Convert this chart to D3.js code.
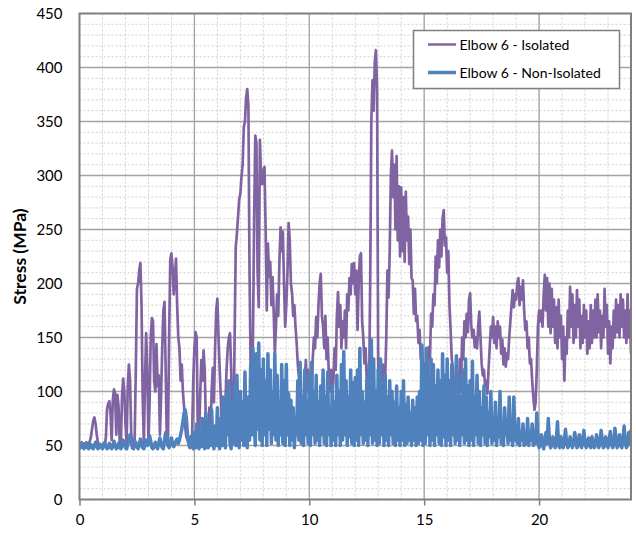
<!DOCTYPE html>
<html>
<head>
<meta charset="utf-8">
<script src="https://cdn.jsdelivr.net/npm/d3@7"></script>
<style>
  html, body { margin: 0; padding: 0; background: #ffffff; }
  svg { display: block; font-family: Lato, "Open Sans", sans-serif; }
</style>
</head>
<body>
<svg id="chart" width="636" height="534"></svg>
<script>
// Stress readings sampled every 0.05 time units, from 0 to 24 (one row per unit).
const sampleStep = 0.05;

const isolatedStress = [
  52, 50, 53, 51, 52, 50, 53, 51, 52, 54, 58, 66, 73, 76, 70, 60, 53, 50, 51, 49,
  50, 52, 50, 58, 84, 89, 91, 80, 55, 92, 102, 98, 60, 97, 86, 52, 50, 95, 112, 100,
  70, 52, 105, 125, 110, 62, 52, 55, 55, 120, 195, 200, 212, 219, 180, 95, 52, 110, 154, 120,
  52, 90, 150, 168, 165, 110, 100, 144, 105, 115, 60, 95, 140, 175, 183, 120, 55, 52, 150, 222,
  228, 215, 190, 205, 223, 180, 150, 140, 110, 125, 100, 86, 67, 58, 55, 52, 54, 52, 60, 110,
  140, 155, 150, 60, 52, 95, 129, 110, 138, 120, 70, 54, 52, 85, 55, 100, 122, 90, 140, 175,
  186, 150, 120, 95, 60, 52, 55, 90, 120, 140, 150, 154, 120, 60, 52, 150, 234, 246, 262, 278,
  283, 299, 310, 345, 350, 372, 380, 365, 209, 120, 98, 150, 260, 337, 330, 210, 178, 333, 300, 292,
  305, 308, 250, 175, 237, 206, 220, 180, 206, 175, 135, 160, 190, 170, 220, 252, 230, 248, 200, 160,
  180, 210, 256, 240, 200, 191, 170, 180, 160, 145, 125, 113, 100, 80, 90, 70, 110, 129, 100, 120,
  98, 115, 90, 130, 150, 140, 169, 150, 180, 200, 209, 170, 160, 140, 170, 130, 150, 115, 100, 120,
  96, 110, 140, 120, 170, 192, 160, 180, 140, 165, 150, 175, 140, 190, 175, 205, 190, 218, 200, 219,
  190, 212, 157, 200, 225, 228, 165, 150, 126, 140, 110, 120, 95, 200, 350, 388, 360, 405, 416, 380,
  117, 60, 130, 110, 125, 105, 110, 150, 212, 187, 230, 300, 323, 280, 310, 250, 318, 240, 290, 225,
  289, 230, 280, 220, 285, 240, 262, 218, 250, 205, 203, 172, 195, 165, 170, 145, 157, 130, 141, 115,
  126, 95, 110, 100, 141, 130, 172, 160, 190, 180, 225, 200, 240, 215, 250, 225, 260, 268, 235, 243,
  210, 230, 180, 157, 130, 123, 100, 90, 75, 110, 90, 130, 100, 150, 130, 165, 150, 172, 155, 185,
  191, 160, 150, 157, 141, 150, 140, 160, 174, 150, 126, 115, 120, 105, 110, 98, 120, 140, 160, 150,
  169, 145, 160, 140, 165, 150, 160, 135, 148, 125, 140, 123, 135, 130, 150, 165, 180, 194, 178, 190,
  185, 200, 205, 180, 197, 185, 203, 175, 157, 165, 140, 150, 126, 130, 110, 95, 83, 90, 120, 160,
  175, 165, 175, 160, 190, 208, 175, 205, 160, 200, 154, 195, 160, 185, 145, 178, 140, 185, 150, 170,
  130, 160, 110, 150, 135, 175, 150, 197, 160, 190, 145, 180, 150, 194, 160, 185, 140, 170, 145, 180,
  150, 175, 135, 165, 140, 180, 145, 175, 150, 185, 150, 190, 155, 175, 140, 170, 150, 195, 160, 180,
  135, 165, 126, 160, 140, 175, 150, 185, 155, 180, 150, 190, 160, 185, 150, 175, 145, 190, 150, 175,
  135
];

const nonIsolatedStress = [
  50, 48, 52, 49, 47, 50, 52, 48, 47, 49, 51, 48, 47, 50, 53, 49, 47, 48, 51, 49,
  47, 50, 53, 49, 47, 48, 52, 50, 47, 49, 54, 50, 47, 48, 52, 49, 47, 50, 55, 51,
  48, 47, 51, 54, 60, 55, 48, 47, 50, 53, 49, 47, 50, 56, 52, 48, 47, 51, 55, 50,
  52, 59, 54, 48, 47, 50, 53, 49, 47, 52, 57, 51, 48, 47, 55, 62, 56, 50, 48, 52,
  57, 52, 49, 51, 54, 56, 52, 55, 60, 65, 72, 80, 83, 75, 60, 52, 48, 58, 50, 47,
  62, 48, 70, 50, 47, 65, 49, 75, 52, 47, 80, 55, 48, 70, 50, 83, 55, 47, 68, 50,
  85, 52, 47, 75, 50, 95, 55, 48, 98, 60, 110, 52, 47, 90, 55, 105, 50, 115, 60, 48,
  100, 55, 90, 50, 118, 60, 48, 95, 55, 125, 60, 140, 70, 50, 135, 65, 145, 55, 120, 50,
  130, 60, 110, 50, 135, 65, 120, 52, 100, 60, 135, 55, 115, 50, 90, 60, 125, 52, 110, 50,
  125, 60, 98, 50, 92, 55, 85, 48, 70, 60, 110, 55, 127, 52, 95, 50, 120, 60, 88, 52,
  115, 50, 127, 60, 100, 52, 115, 55, 90, 50, 105, 60, 120, 52, 95, 50, 118, 60, 80, 50,
  105, 55, 90, 50, 115, 60, 100, 50, 125, 55, 137, 60, 110, 50, 95, 58, 120, 52, 108, 50,
  113, 55, 120, 50, 140, 60, 100, 52, 90, 55, 110, 50, 125, 60, 148, 52, 130, 55, 100, 50,
  120, 52, 130, 60, 105, 50, 115, 55, 95, 50, 110, 60, 100, 52, 90, 50, 105, 55, 85, 50,
  100, 55, 110, 50, 88, 52, 95, 55, 80, 50, 92, 55, 85, 50, 95, 52, 100, 55, 143, 50,
  120, 52, 140, 60, 110, 50, 130, 55, 125, 50, 105, 60, 120, 52, 110, 50, 135, 58, 115, 50,
  130, 55, 110, 50, 125, 60, 100, 52, 133, 55, 115, 50, 95, 60, 120, 52, 130, 55, 105, 50,
  110, 55, 128, 50, 95, 60, 115, 52, 100, 50, 85, 60, 105, 52, 95, 50, 80, 58, 100, 52,
  75, 55, 90, 50, 70, 58, 100, 52, 65, 50, 85, 60, 70, 52, 95, 55, 65, 50, 95, 55,
  68, 52, 75, 50, 62, 55, 70, 50, 58, 52, 75, 50, 60, 55, 70, 50, 58, 52, 80, 55,
  48, 52, 60, 50, 47, 55, 62, 52, 75, 55, 48, 50, 58, 53, 48, 55, 72, 50, 48, 58,
  52, 48, 55, 65, 52, 48, 50, 58, 53, 48, 52, 62, 55, 48, 50, 60, 52, 48, 55, 64,
  52, 48, 50, 57, 52, 48, 58, 52, 48, 50, 60, 53, 48, 52, 64, 55, 48, 50, 58, 52,
  48, 55, 63, 52, 48, 50, 66, 55, 48, 52, 60, 50, 48, 55, 68, 53, 48, 50, 62, 52,
  64
];

const seriesNames = ["Elbow 6 - Isolated", "Elbow 6 - Non-Isolated"];
const seriesColors = ["#8064a2", "#4f81bd"];
const xTicks = [0, 5, 10, 15, 20];
const yTicks = [0, 50, 100, 150, 200, 250, 300, 350, 400, 450];
const yTitle = "Stress (MPa)";

const svg = d3.select("#chart");
const plot = { left: 79.5, right: 631, top: 13.5, bottom: 499.5 };

const x = d3.scaleLinear().domain([0, 24]).range([plot.left, plot.right]);
const y = d3.scaleLinear().domain([0, 450]).range([plot.bottom, plot.top]);

// Minor grid (dotted)
const grid = svg.append("g");
grid.selectAll(".vminor").data(d3.range(1, 24)).join("line")
  .attr("x1", d => x(d)).attr("x2", d => x(d))
  .attr("y1", plot.top).attr("y2", plot.bottom)
  .attr("stroke", "#cfcfcf").attr("stroke-width", 1).attr("stroke-dasharray", "2,2");
grid.selectAll(".hminor").data(d3.range(10, 450, 10)).join("line")
  .attr("x1", plot.left).attr("x2", plot.right)
  .attr("y1", d => y(d)).attr("y2", d => y(d))
  .attr("stroke", "#cfcfcf").attr("stroke-width", 1).attr("stroke-dasharray", "2,2");

// Major grid (solid)
grid.selectAll(".vmajor").data([5, 10, 15, 20]).join("line")
  .attr("x1", d => x(d)).attr("x2", d => x(d))
  .attr("y1", plot.top).attr("y2", plot.bottom)
  .attr("stroke", "#a3a3a3").attr("stroke-width", 1.3);
grid.selectAll(".hmajor").data(yTicks.filter(v => v > 0 && v < 450)).join("line")
  .attr("x1", plot.left).attr("x2", plot.right)
  .attr("y1", d => y(d)).attr("y2", d => y(d))
  .attr("stroke", "#a3a3a3").attr("stroke-width", 1.3);

// Series lines
const line = d3.line()
  .x((d, i) => x(i * sampleStep))
  .y(d => y(d));

svg.append("defs").append("clipPath").attr("id", "plotClip")
  .append("rect").attr("x", plot.left).attr("y", plot.top)
  .attr("width", plot.right - plot.left).attr("height", plot.bottom - plot.top);

const lines = svg.append("g").attr("clip-path", "url(#plotClip)");
lines.append("path").datum(isolatedStress)
  .attr("d", line).attr("fill", "none")
  .attr("stroke", seriesColors[0]).attr("stroke-width", 2.7)
  .attr("stroke-linejoin", "round").attr("stroke-linecap", "round");
lines.append("path").datum(nonIsolatedStress)
  .attr("d", line).attr("fill", "none")
  .attr("stroke", seriesColors[1]).attr("stroke-width", 3.5)
  .attr("stroke-linejoin", "round").attr("stroke-linecap", "round");

// Plot frame
svg.append("rect")
  .attr("x", plot.left).attr("y", plot.top)
  .attr("width", plot.right - plot.left).attr("height", plot.bottom - plot.top)
  .attr("fill", "none").attr("stroke", "#7f7f7f").attr("stroke-width", 2);

// Axes
const xAxis = svg.append("g")
  .attr("transform", `translate(0,${plot.bottom})`)
  .call(d3.axisBottom(x).tickValues(xTicks).tickSize(6).tickSizeOuter(0).tickPadding(9));
xAxis.select(".domain").remove();
xAxis.selectAll(".tick line").attr("stroke", "#7f7f7f").attr("stroke-width", 1.5);
xAxis.selectAll(".tick text").attr("font-size", 15).attr("fill", "#000")
  .attr("font-family", "Lato, sans-serif");

const yAxis = svg.append("g")
  .attr("transform", `translate(${plot.left},0)`)
  .call(d3.axisLeft(y).tickValues(yTicks).tickSize(0).tickPadding(17));
yAxis.select(".domain").remove();
yAxis.selectAll(".tick text").attr("font-size", 15).attr("fill", "#000")
  .attr("font-family", "Lato, sans-serif");

svg.append("text")
  .attr("transform", `translate(26,${(plot.top + plot.bottom) / 2}) rotate(-90)`)
  .attr("text-anchor", "middle")
  .attr("font-size", 17.5).attr("font-weight", "bold")
  .text(yTitle);

// Legend
const legend = svg.append("g");
legend.append("rect")
  .attr("x", 413.5).attr("y", 30.5).attr("width", 206).attr("height", 58)
  .attr("fill", "#ffffff").attr("stroke", "#7f7f7f").attr("stroke-width", 1.5);
const legendRows = legend.selectAll(".row").data(seriesNames).join("g")
  .attr("transform", (d, i) => `translate(0,${44.5 + i * 28})`);
legendRows.append("line")
  .attr("x1", 428).attr("x2", 456).attr("y1", 0).attr("y2", 0)
  .attr("stroke", (d, i) => seriesColors[i])
  .attr("stroke-width", (d, i) => i === 0 ? 2.5 : 3.5);
legendRows.append("text")
  .attr("x", 459.5).attr("y", 5)
  .attr("font-size", 14).attr("fill", "#000")
  .text(d => d);
</script>
</body>
</html>
